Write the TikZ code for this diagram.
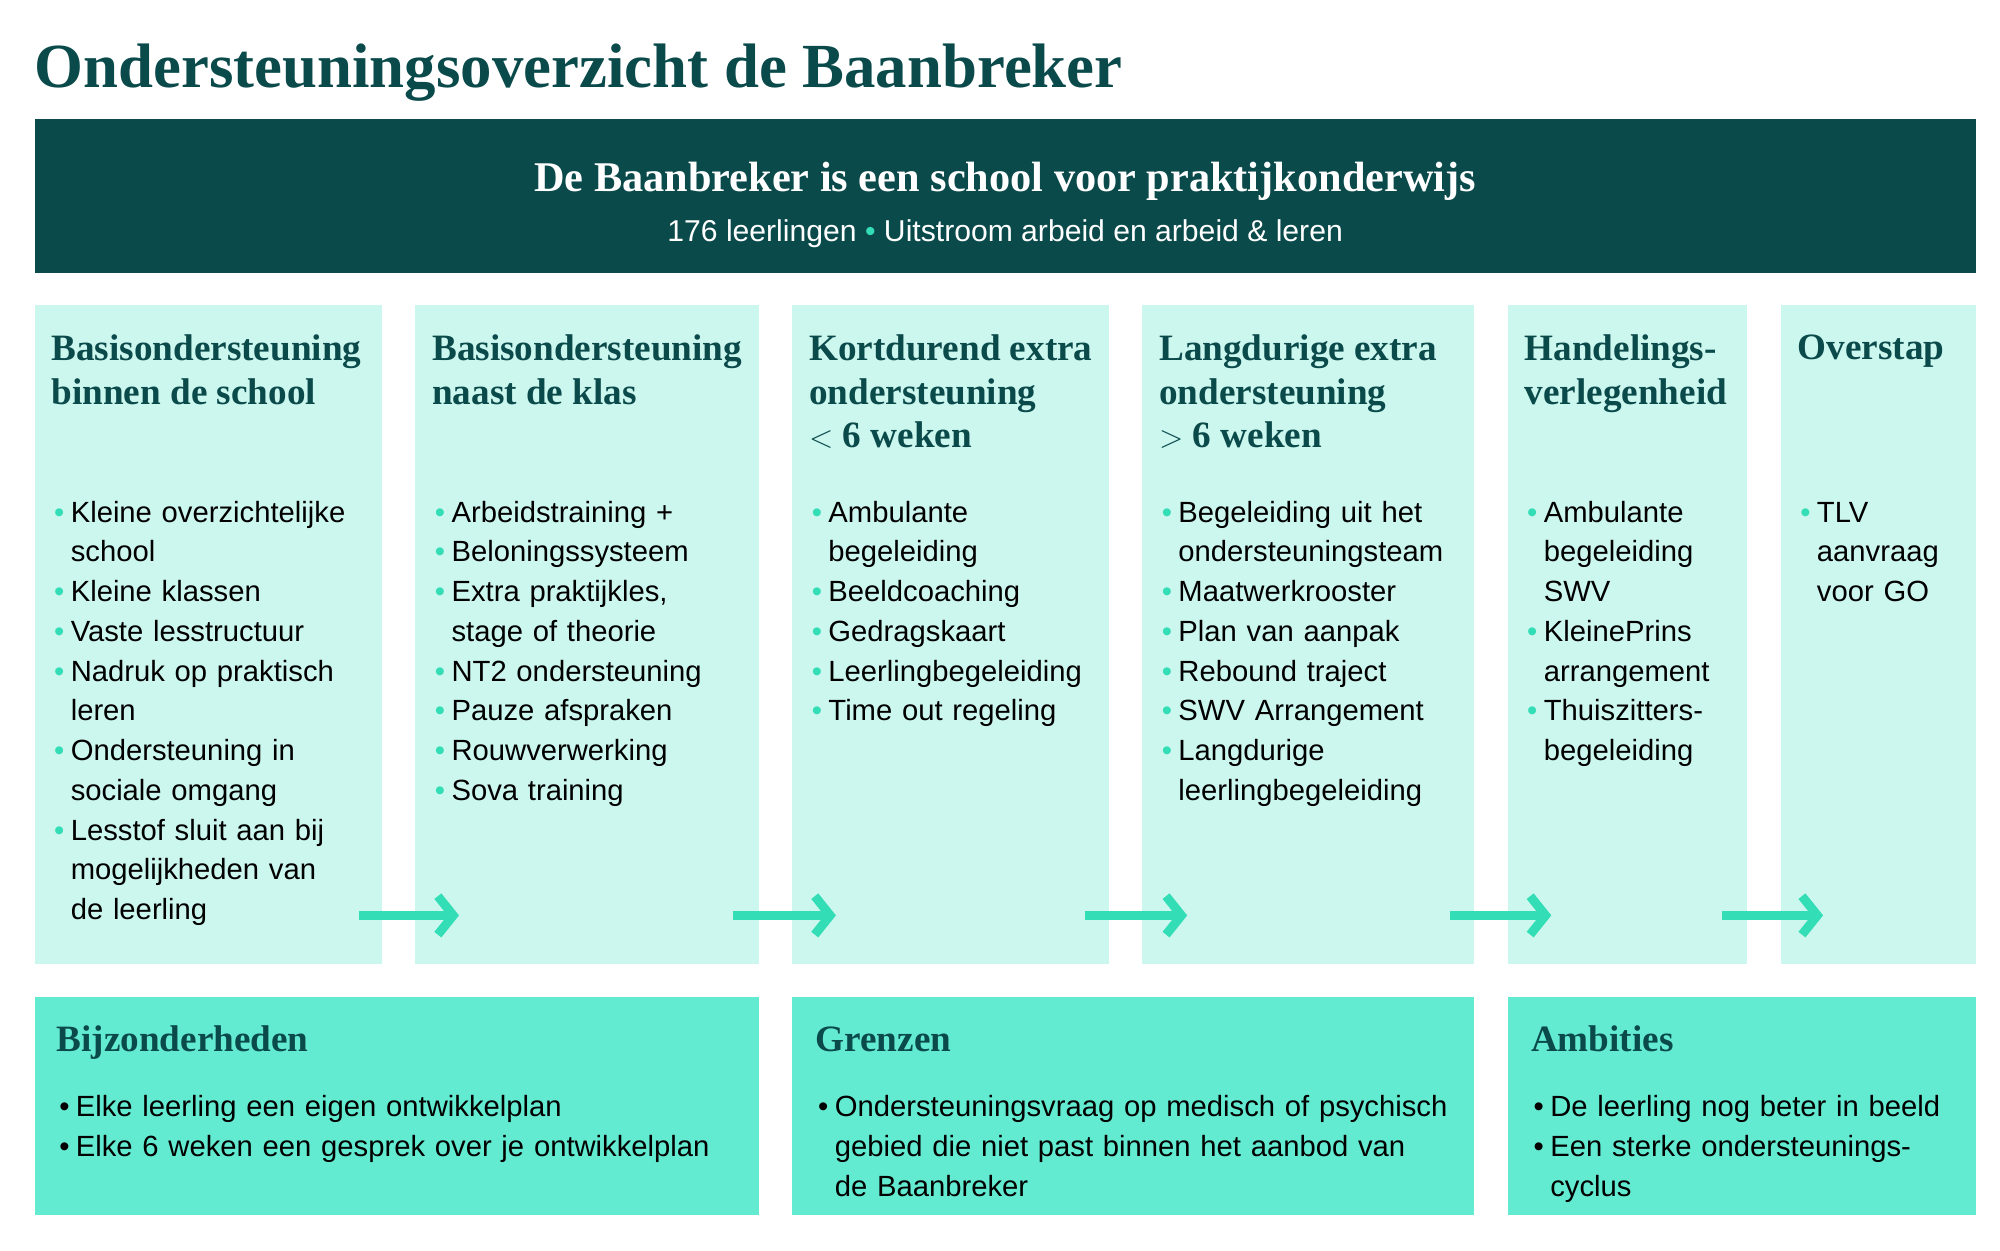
\documentclass[tikz,border=0pt]{standalone}
\usepackage{fontspec}
\usepackage{enumitem}
\setmainfont{Liberation Sans}
\newfontfamily\hd{Liberation Serif}
\usetikzlibrary{arrows.meta}
\definecolor{dk}{HTML}{0B4A4B}
\definecolor{lt}{HTML}{CCF7EF}
\definecolor{md}{HTML}{63EBD2}
\definecolor{mint}{HTML}{33DDB5}
\newenvironment{blist}[1][\textcolor{mint}{•}]{\begin{itemize}[leftmargin=15pt,labelsep=5pt,label=#1,itemsep=0pt,topsep=0pt,parsep=0pt,partopsep=0pt]}{\end{itemize}}
\tikzset{
 col/.style={fill=lt,draw=none},
 bot/.style={fill=md,draw=none},
 head/.style={anchor=north west,inner sep=0pt,align=left,text=dk,font=\hd\bfseries\fontsize{29}{34}\selectfont},
 items/.style={anchor=north west,inner sep=0pt,text width=#1,font=\fontsize{22.8}{31}\selectfont},
 arr/.style={line width=7pt,draw=mint,-{Straight Barb[length=12pt,width=30pt,line width=7pt]}}
}
\begin{document}
\begin{tikzpicture}[x=1pt,y=-1pt]
\useasboundingbox (0,0) rectangle (1560,975);
\node[anchor=base west,inner sep=0pt,text=dk,font=\hd\bfseries\fontsize{49}{55}\selectfont] (title) at (27,68) {Ondersteuningsoverzicht de Baanbreker};
\fill[dk] (27,93) rectangle (1541,213);
\node[text=white,font=\hd\bfseries\fontsize{33}{38}\selectfont,anchor=base] (b1) at (784,149) {De Baanbreker is een school voor praktijkonderwijs};
\node[text=white,font=\fontsize{23.5}{28}\selectfont,anchor=base] (b2) at (784,188) {176 leerlingen \textcolor{mint}{•} Uitstroom arbeid en arbeid \& leren};
% columns
\fill[col] (27,238) rectangle (298,752);
\fill[col] (324,238) rectangle (592,752);
\fill[col] (618,238) rectangle (865,752);
\fill[col] (891,238) rectangle (1150,752);
\fill[col] (1176,238) rectangle (1363,752);
\fill[col] (1389,238) rectangle (1541,752);
\node[head] (h1) at (40,261) {Basisondersteuning\\binnen de school};
\node[head] (h2) at (337,261) {Basisondersteuning\\naast de klas};
\node[head] (h3) at (631,261) {Kortdurend extra\\ondersteuning\\$<$ 6 weken};
\node[head] (h4) at (904,261) {Langdurige extra\\ondersteuning\\$>$ 6 weken};
\node[head] (h5) at (1189,261) {Handelings-\\verlegenheid};
\node[head] (h6) at (1402,261) {Overstap};
\node[items=260pt] (i1) at (40,376) {\begin{blist}\item Kleine overzichtelijke\newline school\item Kleine klassen\item Vaste lesstructuur\item Nadruk op praktisch\newline leren\item Ondersteuning in\newline sociale omgang\item Lesstof sluit aan bij\newline mogelijkheden van\newline de leerling\end{blist}};
\node[items=260pt] (i2) at (337,376) {\begin{blist}\item Arbeidstraining +\item Beloningssysteem\item Extra praktijkles,\newline stage of theorie\item NT2 ondersteuning\item Pauze afspraken\item Rouwverwerking\item Sova training\end{blist}};
\node[items=240pt] (i3) at (631,376) {\begin{blist}\item Ambulante\newline begeleiding\item Beeldcoaching\item Gedragskaart\item Leerlingbegeleiding\item Time out regeling\end{blist}};
\node[items=250pt] (i4) at (904,376) {\begin{blist}\item Begeleiding uit het\newline ondersteuningsteam\item Maatwerkrooster\item Plan van aanpak\item Rebound traject\item SWV Arrangement\item Langdurige\newline leerlingbegeleiding\end{blist}};
\node[items=180pt] (i5) at (1189,376) {\begin{blist}\item Ambulante\newline begeleiding\newline SWV\item KleinePrins\newline arrangement\item Thuiszitters-\newline begeleiding\end{blist}};
\node[items=140pt] (i6) at (1402,376) {\begin{blist}\item TLV\newline aanvraag\newline voor GO\end{blist}};
% arrows
\coordinate (a1s) at (280,714); \coordinate (a1e) at (358,714);
\coordinate (a2s) at (572,714); \coordinate (a2e) at (652,714);
\coordinate (a3s) at (846,714); \coordinate (a3e) at (926,714);
\coordinate (a4s) at (1131,714); \coordinate (a4e) at (1210,714);
\coordinate (a5s) at (1343,714); \coordinate (a5e) at (1422,714);
\foreach \k in {1,...,5} \draw[arr] (a\k s) -- (a\k e);
% bottom
\fill[bot] (27,778) rectangle (592,948);
\fill[bot] (618,778) rectangle (1150,948);
\fill[bot] (1176,778) rectangle (1541,948);
\node[head,anchor=base west] (g1) at (44,820) {Bijzonderheden};
\node[head,anchor=base west] (g2) at (636,820) {Grenzen};
\node[head,anchor=base west] (g3) at (1194,820) {Ambities};
\node[items=540pt] (j1) at (44,840) {\begin{blist}[•]\item Elke leerling een eigen ontwikkelplan\item Elke 6 weken een gesprek over je ontwikkelplan\end{blist}};
\node[items=520pt] (j2) at (636,840) {\begin{blist}[•]\item Ondersteuningsvraag op medisch of psychisch\newline gebied die niet past binnen het aanbod van\newline de Baanbreker\end{blist}};
\node[items=350pt] (j3) at (1194,840) {\begin{blist}[•]\item De leerling nog beter in beeld\item Een sterke ondersteunings-\newline cyclus\end{blist}};
\end{tikzpicture}
\end{document}
